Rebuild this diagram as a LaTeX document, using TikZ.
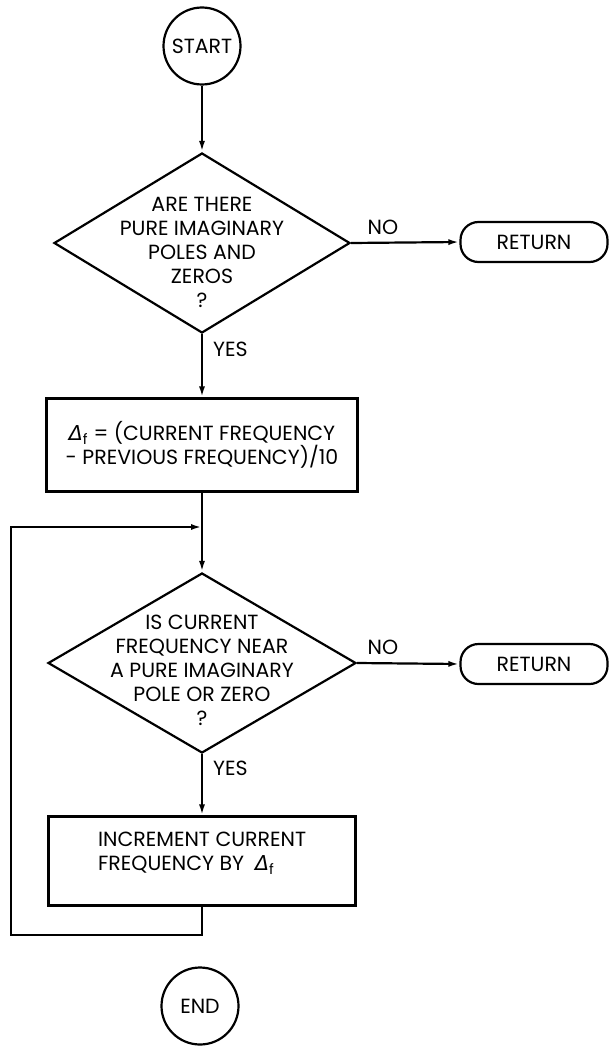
\documentclass[tikz,border=0pt]{standalone}
\usepackage{fontspec}
\setmainfont{Poppins}
\newfontfamily\greekfont{DejaVu Sans}
\usetikzlibrary{shapes.geometric,arrows.meta}
% increment symbol: slanted capital delta with subscript f
\newcommand{\dfsym}{{\greekfont\itshape Δ}\textsubscript{f}}

\begin{document}
\begin{tikzpicture}[x=1pt,y=-1pt,
  line width=2.2pt,
  >={Latex[length=11pt,width=6pt]},
  every node/.style={font=\fontsize{20.5}{24}\selectfont},
  terminal/.style={circle,draw,minimum size=77pt,inner sep=0pt},
  decision/.style={diamond,draw,inner sep=0pt},
  process/.style={rectangle,draw,inner sep=0pt},
  retbox/.style={rectangle,draw,rounded corners=18pt,minimum width=147pt,minimum height=40pt},
  qtext/.style={align=center,inner sep=0pt},
  tag/.style={inner sep=0pt}
]
\useasboundingbox (0,0) rectangle (610,1046);

% terminals
\node[terminal] (start) at (202,46) {START};
\node[terminal] (end) at (200,1006) {END};

% first decision
\node[decision, minimum width=296pt, minimum height=180pt] (q1) at (202,243) {};
\node[qtext] (q1t) at (202,252) {ARE THERE\\PURE IMAGINARY\\POLES AND\\ZEROS\\?};
\node[retbox] (r1) at (534,242) {RETURN};
\node[tag] (no1) at (383,227) {NO};
\node[tag, anchor=west] (yes1) at (212,349) {YES};

% step size
\node[process, minimum width=311pt, minimum height=93pt, align=center] (b1) at (202,445)
  {\dfsym{} = (CURRENT FREQUENCY\\- PREVIOUS FREQUENCY)/10};

% loop corners
\coordinate (join) at (202,527);
\coordinate (loopTL) at (11,527);
\coordinate (loopBL) at (11,935);

% second decision
\node[decision, minimum width=308pt, minimum height=180pt] (q2) at (202,663) {};
\node[qtext] (q2t) at (202,670) {IS CURRENT\\FREQUENCY NEAR\\A PURE IMAGINARY\\POLE OR ZERO\\?};
\node[retbox] (r2) at (534,664) {RETURN};
\node[tag] (no2) at (383,647) {NO};
\node[tag, anchor=west] (yes2) at (212,768) {YES};

% increment
\node[process, minimum width=307pt, minimum height=89pt] (b2) at (202,861) {};
\node[qtext, align=left, anchor=west] (b2t) at (97,853) {INCREMENT CURRENT\\FREQUENCY BY \ \dfsym};

% connectors
\draw[->] (start.south) -- (q1.north);
\draw[->] (q1.east) -- (r1.west);
\draw[->] (q1.south) -- (b1.north);
\draw[->] (b1.south) -- (q2.north);
\draw[->] (q2.east) -- (r2.west);
\draw[->] (q2.south) -- (b2.north);
\draw[->] (b2.south) |- (loopBL) -- (loopTL) -- (join);
\end{tikzpicture}
\end{document}
